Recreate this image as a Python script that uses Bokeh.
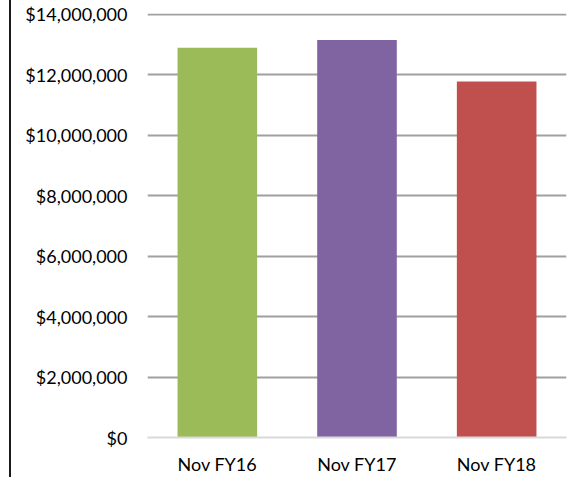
from bokeh.plotting import figure
from bokeh.models import Range1d, NumeralTickFormatter, FixedTicker, Div, Spacer
from bokeh.layouts import row
from bokeh.embed import file_html
from bokeh.resources import INLINE

categories = ["Nov FY16", "Nov FY17", "Nov FY18"]
values = [12900000, 13160000, 11780000]
colors = ["#9BBB59", "#8064A2", "#C0504D"]
y_ticks = [0, 2000000, 4000000, 6000000, 8000000, 10000000, 12000000, 14000000]

FONT = "Lato"
H = 477

p = figure(x_range=categories, y_range=Range1d(0, 14033000),
           width=558, height=H, output_backend="svg", toolbar_location=None,
           min_border_left=136, min_border_right=3, min_border_top=13, min_border_bottom=40,
           margin=0)

p.vbar(x=categories, top=values, width=0.57, color=colors, line_color=None)

p.outline_line_color = None
p.background_fill_color = "white"
p.border_fill_color = "white"

p.xgrid.grid_line_color = None
p.ygrid.ticker = FixedTicker(ticks=y_ticks[1:])
p.ygrid.grid_line_color = "#A0A0A0"
p.ygrid.grid_line_width = 2

p.yaxis.ticker = FixedTicker(ticks=y_ticks)
p.yaxis.formatter = NumeralTickFormatter(format="$0,0")
p.yaxis.axis_line_color = None
p.yaxis.major_tick_line_color = None
p.yaxis.minor_tick_line_color = None
p.yaxis.major_tick_out = 0
p.yaxis.major_tick_in = 0
p.yaxis.major_label_standoff = 20

p.xaxis.axis_line_color = "#D9D9D9"
p.xaxis.axis_line_width = 2
p.xaxis.major_tick_line_color = None
p.xaxis.minor_tick_line_color = None
p.xaxis.major_tick_out = 0
p.xaxis.major_tick_in = 0
p.xaxis.major_label_standoff = 15

for ax in (p.xaxis, p.yaxis):
    ax.major_label_text_font = FONT
    ax.major_label_text_font_size = "18px"
    ax.major_label_text_color = "#000000"

left_line = Div(width=2, height=H, margin=0, styles={"background-color": "#1a1a1a"})
layout = row(Spacer(width=9, height=H, margin=0), left_line, p)

open("out.html", "w").write(file_html(layout, INLINE))
